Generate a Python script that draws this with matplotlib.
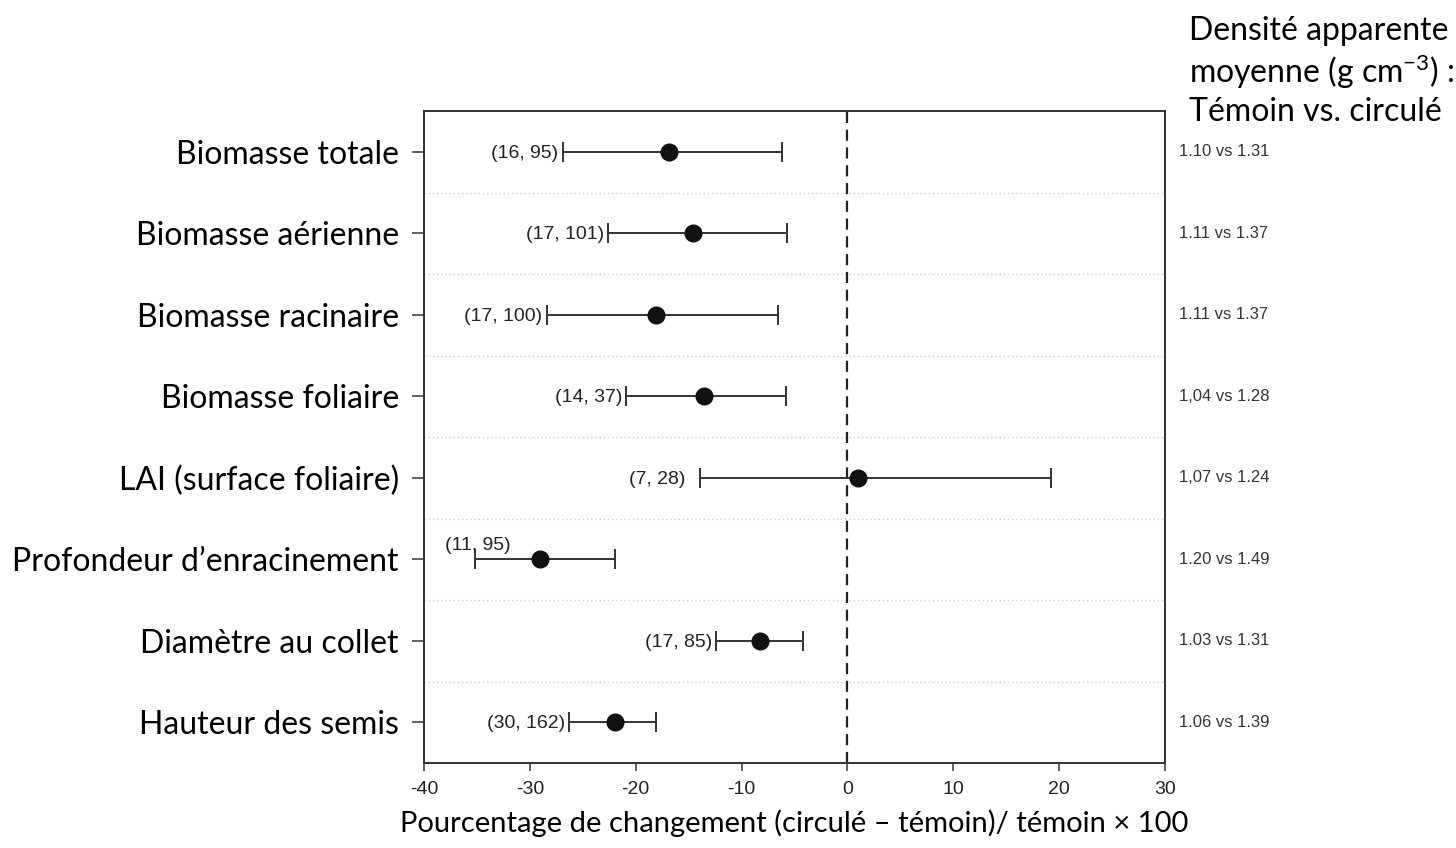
import matplotlib
matplotlib.use("Agg")
import matplotlib.pyplot as plt
import numpy as np

categories = ["Biomasse totale", "Biomasse aérienne", "Biomasse racinaire",
              "Biomasse foliaire", "LAI (surface foliaire)",
              "Profondeur d\u2019enracinement", "Diamètre au collet",
              "Hauteur des semis"]
effect = [-16.9, -14.6, -18.1, -13.5, 1.0, -29.0, -8.3, -22.0]
ci_low = [-26.9, -22.6, -28.4, -20.9, -13.9, -35.2, -12.4, -26.3]
ci_high = [-6.2, -5.7, -6.6, -5.8, 19.2, -22.0, -4.2, -18.1]
n_labels = ["(16, 95)", "(17, 101)", "(17, 100)", "(14, 37)", "(7, 28)",
            "(11, 95)", "(17, 85)", "(30, 162)"]
density = ["1.10 vs 1.31", "1.11 vs 1.37", "1.11 vs 1.37", "1,04 vs 1.28",
           "1,07 vs 1.24", "1.20 vs 1.49", "1.03 vs 1.31", "1.06 vs 1.39"]
xticks = [-40, -30, -20, -10, 0, 10, 20, 30]

plt.rcParams['mathtext.fontset'] = 'custom'
plt.rcParams['mathtext.rm'] = 'Lato'
plt.rcParams['mathtext.it'] = 'Lato:italic'

fig = plt.figure(figsize=(14.56, 8.48), dpi=100)
ax = fig.add_axes([0.2912, 0.1002, 0.5089, 0.7689])

y = np.arange(len(categories))
eff = np.array(effect)
lo = np.array(ci_low)
hi = np.array(ci_high)

# dotted gridlines between rows
for g in y[:-1] + 0.5:
    ax.axhline(g, color='#cccccc', lw=1.0, ls=(0, (1, 2)), zorder=0)

ax.axvline(0, color='#222222', lw=1.6, ls=(0, (5, 3)), zorder=1)

ax.errorbar(eff, y, xerr=[eff - lo, hi - eff], fmt='o', color='#111111',
            ecolor='#333333', elinewidth=1.4, capsize=7, capthick=1.4,
            markersize=12, zorder=3)

for i, (lab, l) in enumerate(zip(n_labels, lo)):
    if i == 5:
        ax.annotate(lab, (l, y[i]), xytext=(2, 4), textcoords='offset points',
                    ha='center', va='bottom', fontsize=14,
                    family='Liberation Sans', color='#222222')
    else:
        off = -11 if i == 4 else -3
        ax.annotate(lab, (l, y[i]), xytext=(off, -1), textcoords='offset points',
                    ha='right', va='center', fontsize=14,
                    family='Liberation Sans', color='#222222')

for i, d in enumerate(density):
    ax.annotate(d, (1.0, y[i]), xycoords=('axes fraction', 'data'),
                xytext=(10, 0), textcoords='offset points', ha='left',
                va='center', fontsize=12, family='Liberation Sans',
                color='#333333')

ax.set_xlim(-40, 30)
ax.set_ylim(len(categories) - 0.5, -0.5)
ax.set_xticks(xticks)
ax.set_xticklabels([str(t) for t in xticks], family='Liberation Sans',
                   fontsize=14, color='#222222')
ax.set_yticks(y)
ax.set_yticklabels(categories, family='Lato', fontsize=23)
ax.tick_params(axis='x', direction='out', length=6, width=1.2, pad=7,
               color='#444444')
ax.tick_params(axis='y', direction='out', length=9, width=1.2, pad=9,
               color='#444444')
for s in ax.spines.values():
    s.set_color('#333333')
    s.set_linewidth(1.4)

ax.set_xlabel("Pourcentage de changement (circulé \u2013 témoin)/ témoin \u00d7 100",
              family='Lato', fontsize=21, labelpad=8)

fig.text(1189 / 1456, 1 - 16 / 848,
         "Densité apparente\nmoyenne (g cm$^{-3}$) :\nTémoin vs. circulé",
         family='Lato', fontsize=23, ha='left', va='top', linespacing=1.22)

fig.savefig("out.png", dpi=100, facecolor='white')
